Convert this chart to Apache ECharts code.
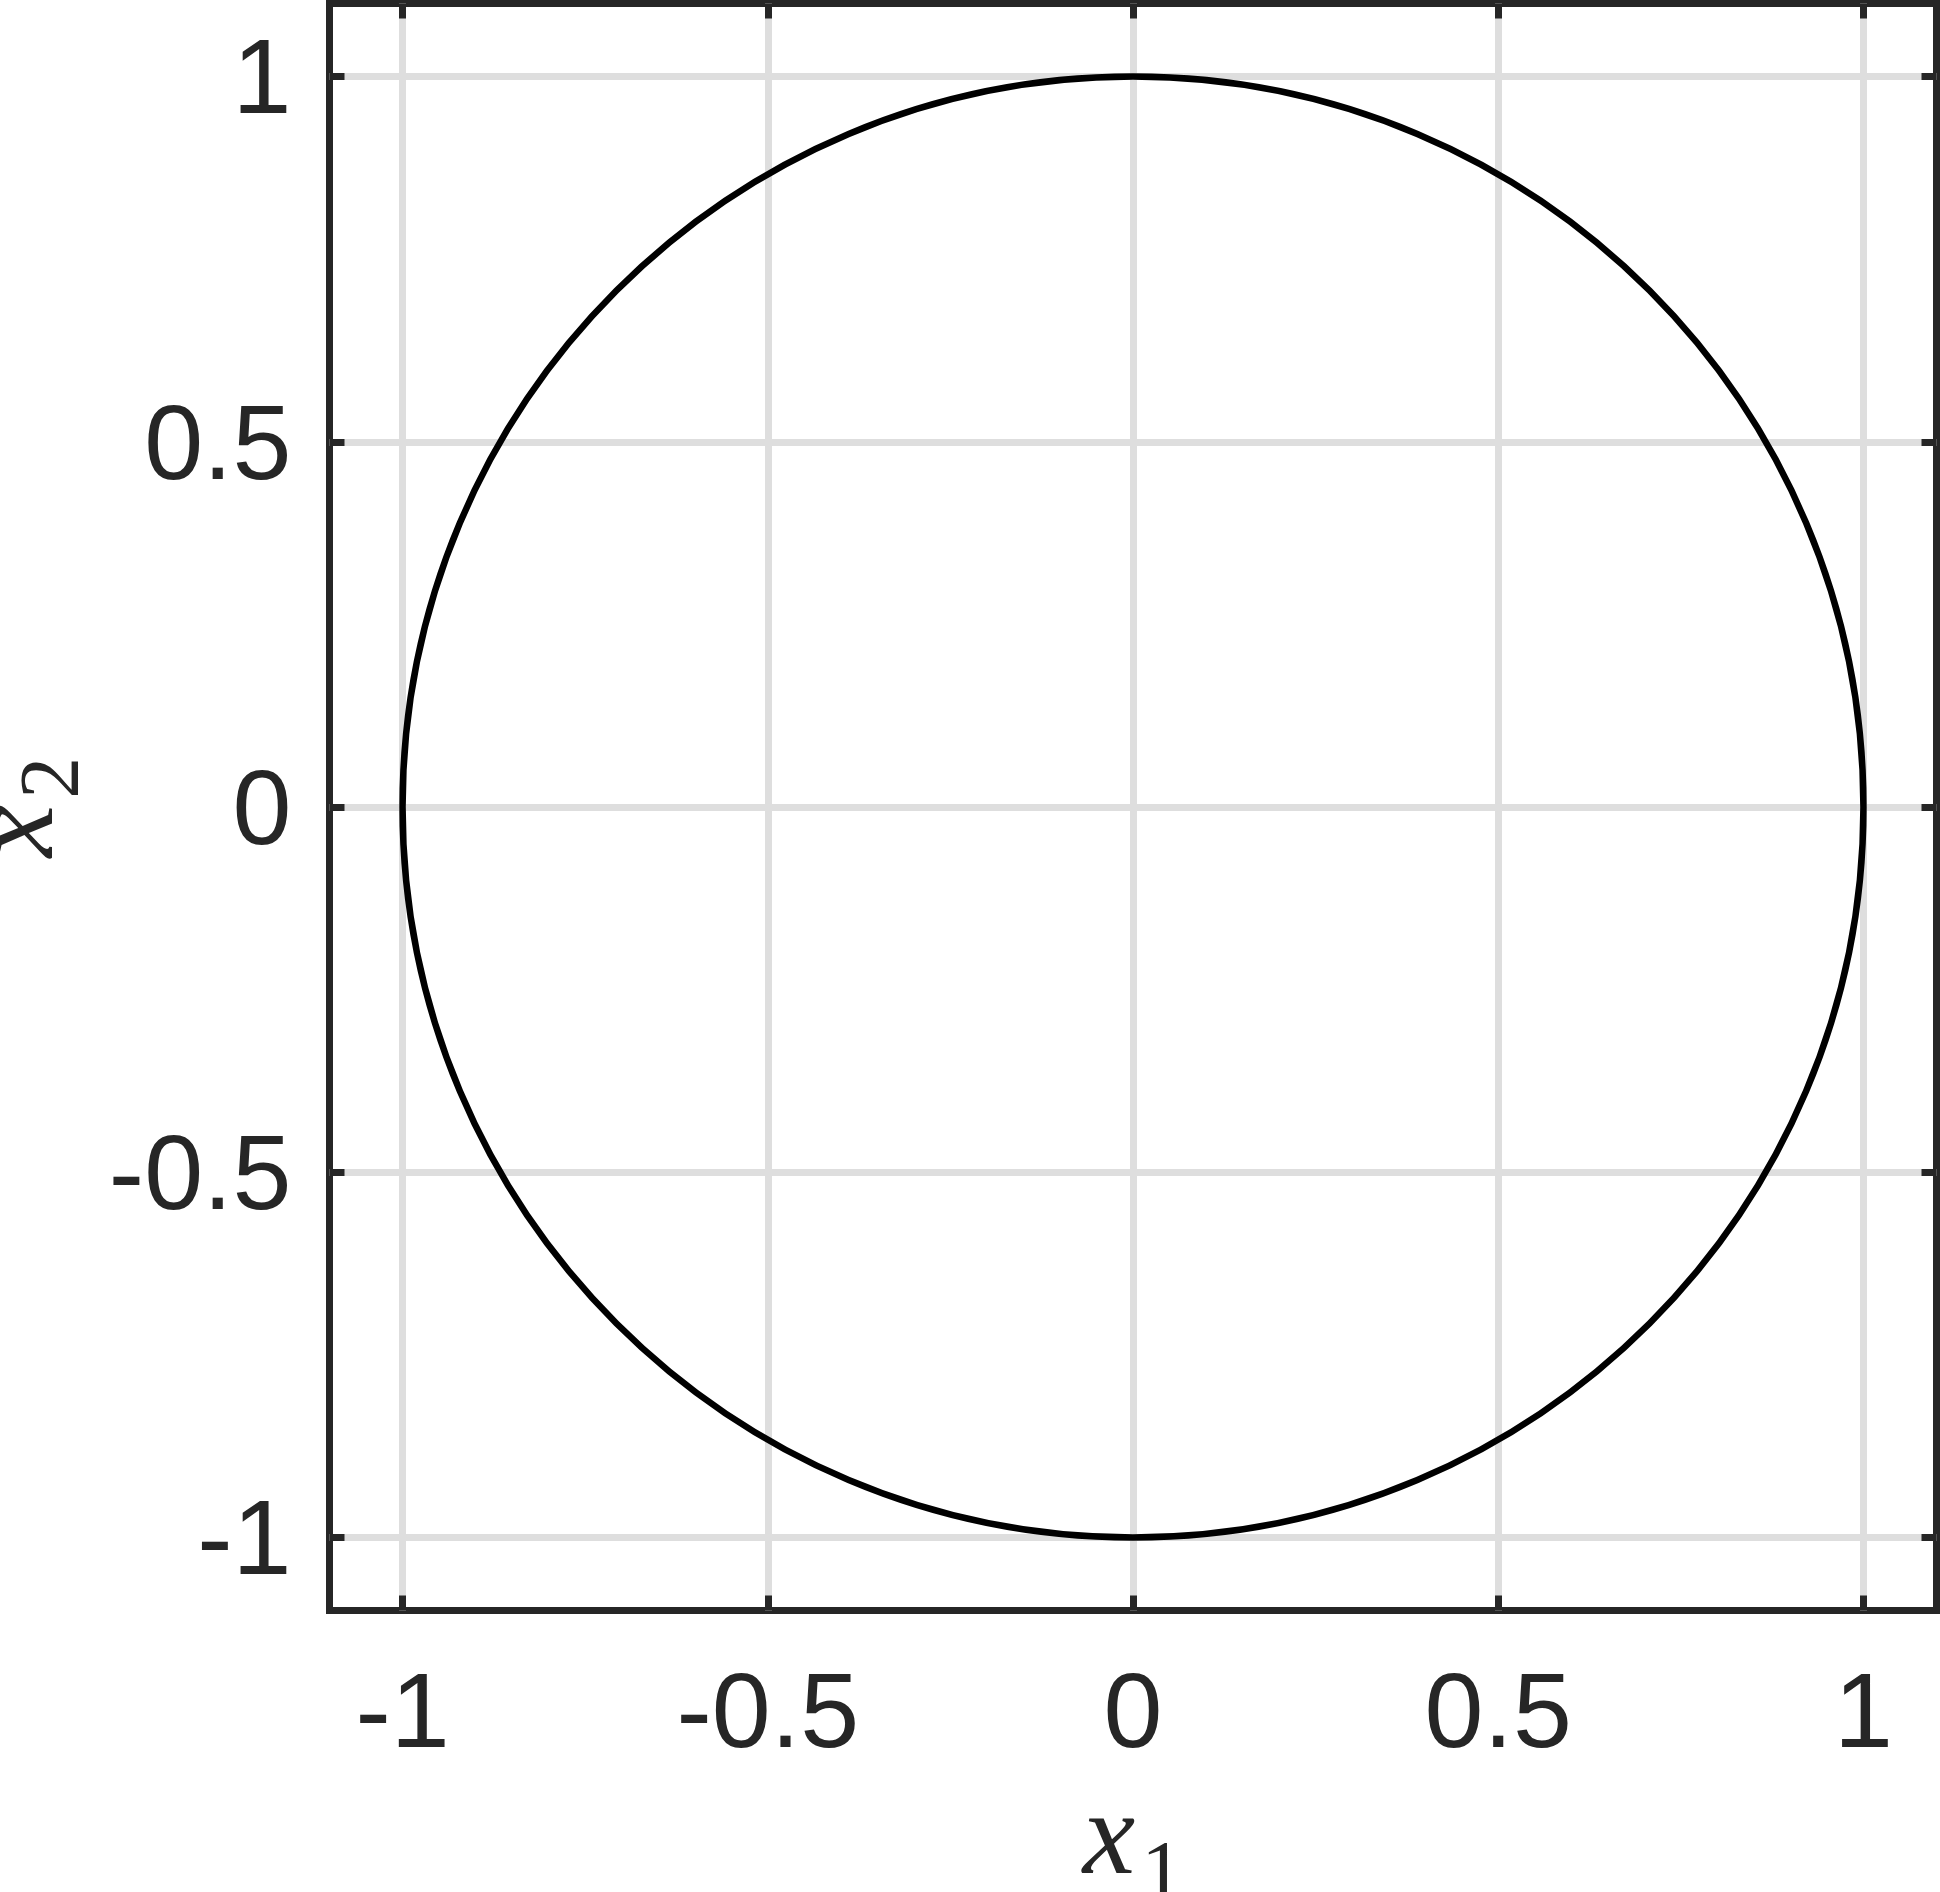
<!DOCTYPE html>
<html>
<head>
<meta charset="utf-8">
<script src="https://cdn.jsdelivr.net/npm/echarts@6/dist/echarts.min.js"></script>
<style>
html,body{margin:0;padding:0;background:#fff;}
#chart{width:1940px;height:1892px;}
</style>
</head>
<body>
<div id="chart"></div>
<script>
// Data: the drawn curve is a circle given by its center and radius
const circleCenterX = [0];
const circleCenterY = [0];
const circleRadius = [1];
// Axis ticks
const xTicks = [-1, -0.5, 0, 0.5, 1];
const yTicks = [-1, -0.5, 0, 0.5, 1];
const xRange = [-1.1, 1.1];
const yRange = [-1.1, 1.1];

const dark = '#262626';
const tickFont = 'Liberation Sans, Arial, Helvetica, sans-serif';
const mathFont = 'Liberation Serif, DejaVu Serif, serif';

const chart = echarts.init(document.getElementById('chart'), null, {renderer: 'canvas'});

function fmt(v) { return String(v); }
function fmtY(v) { return '{a|' + String(v) + '}'; }

const baseTick = {show: true, inside: true, length: 15, lineStyle: {color: dark, width: 7, cap: 'butt'}};
const gridLine = {show: true, lineStyle: {color: '#dedede', width: 7}};
const noLine = {show: false, onZero: false};

const nameRich = {
  v: {fontFamily: mathFont, fontStyle: 'italic', fontSize: 118, color: dark, verticalAlign: 'bottom'},
  s: {fontFamily: mathFont, fontSize: 84, color: dark, verticalAlign: 'bottom', padding: [0, 0, -18, 6]}
};

const option = {
  backgroundColor: '#fff',
  animation: false,
  grid: {left: 329.5, right: 3.5, top: 3.5, bottom: 281.5, containLabel: false, outerBoundsMode: 'none',
         show: true, borderColor: dark, borderWidth: 7, backgroundColor: 'transparent'},
  xAxis: [{
    type: 'value', position: 'bottom', min: xRange[0], max: xRange[1],
    axisLine: noLine,
    axisTick: Object.assign({customValues: xTicks}, baseTick),
    axisLabel: {customValues: xTicks, formatter: fmt, color: dark, fontFamily: tickFont, fontSize: 106, margin: 54},
    splitLine: gridLine,
    name: '{v|x}{s|1}', nameLocation: 'middle', nameGap: 172,
    nameTextStyle: {rich: nameRich}
  }, {
    type: 'value', position: 'top', min: xRange[0], max: xRange[1],
    axisLine: noLine,
    axisTick: Object.assign({customValues: xTicks}, baseTick),
    axisLabel: {show: false, customValues: xTicks},
    splitLine: {show: false}
  }],
  yAxis: [{
    type: 'value', position: 'left', min: yRange[0], max: yRange[1],
    axisLine: noLine,
    axisTick: Object.assign({customValues: yTicks}, baseTick),
    axisLabel: {customValues: yTicks, formatter: fmtY, margin: 38,
      rich: {a: {color: dark, fontFamily: tickFont, fontSize: 106, padding: [15, 0, 0, 0]}}},
    splitLine: gridLine,
    name: '{v|x}{s|2}', nameLocation: 'middle', nameGap: 229, nameRotate: 90,
    nameTextStyle: {rich: nameRich}
  }, {
    type: 'value', position: 'right', min: yRange[0], max: yRange[1],
    axisLine: noLine,
    axisTick: Object.assign({customValues: yTicks}, baseTick),
    axisLabel: {show: false, customValues: yTicks},
    splitLine: {show: false}
  }],
  series: [{
    type: 'custom',
    xAxisIndex: 0, yAxisIndex: 0,
    clip: false,
    data: circleCenterX.map((cx, i) => [cx, circleCenterY[i], circleRadius[i]]),
    renderItem: function (params, api) {
      const c = api.coord([api.value(0), api.value(1)]);
      const s = api.size([api.value(2), api.value(2)]);
      return {
        type: 'ellipse',
        shape: {cx: c[0], cy: c[1], rx: s[0], ry: s[1]},
        style: {fill: 'none', stroke: '#000', lineWidth: 6.5}
      };
    }
  }]
};
chart.setOption(option);
</script>
</body>
</html>
